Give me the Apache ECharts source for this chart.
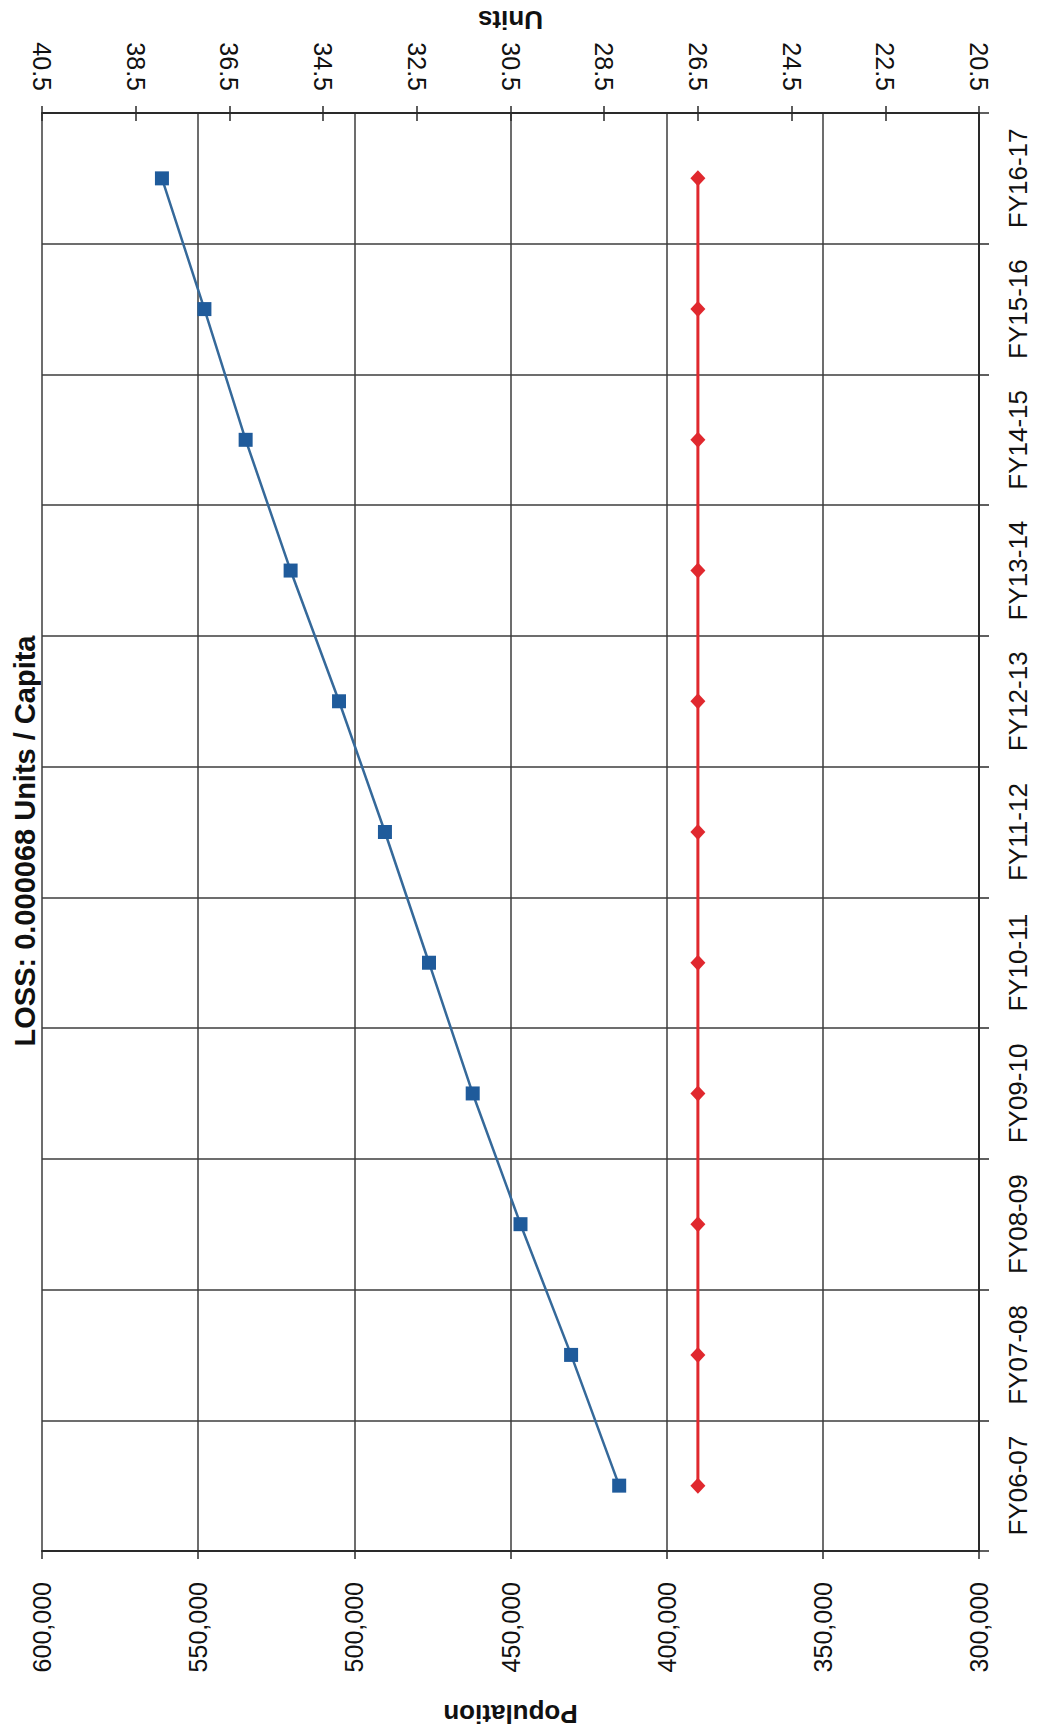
<!DOCTYPE html>
<html>
<head>
<meta charset="utf-8">
<script src="https://cdn.jsdelivr.net/npm/echarts@6/dist/echarts.min.js"></script>
<style>
html,body{margin:0;padding:0;background:#ffffff;}
#chart{width:1037px;height:1732px;}
</style>
</head>
<body>
<div id="chart"></div>
<script>
// ---- data ----
const categories = ['FY06-07','FY07-08','FY08-09','FY09-10','FY10-11','FY11-12','FY12-13','FY13-14','FY14-15','FY15-16','FY16-17'];
const population = [415200, 430600, 446800, 462100, 476100, 490200, 504900, 520400, 534800, 548000, 561600];
const units = [26.5, 26.5, 26.5, 26.5, 26.5, 26.5, 26.5, 26.5, 26.5, 26.5, 26.5];
const populationRange = [300000, 600000];
const populationStep = 50000;
const unitsRange = [20.5, 40.5];
const unitsStep = 2;
const titleText = 'LOSS: 0.000068 Units / Capita';

const FONT = '"Liberation Sans", Arial, Helvetica, sans-serif';
const GRID = '#3c3c3c';
const AXIS = '#2a2a2a';

const chart = echarts.init(document.getElementById('chart'), null, {renderer: 'svg'});
chart.setOption({
  backgroundColor: '#ffffff',
  animation: false,
  grid: {left: 42, right: 58, top: 113, bottom: 176, containLabel: false},
  graphic: [{
    type: 'text',
    x: 25, y: 841,
    rotation: Math.PI / 2,
    style: {
      text: titleText,
      font: 'bold 29px ' + FONT,
      fill: '#111111',
      align: 'center',
      verticalAlign: 'middle'
    }
  }],
  yAxis: [{
    type: 'category',
    position: 'right',
    data: categories,
    boundaryGap: true,
    axisLine: {show: true, lineStyle: {color: AXIS, width: 2}},
    axisTick: {show: true, length: 10, lineStyle: {color: AXIS, width: 1.5}},
    axisLabel: {rotate: 90, interval: 0, margin: 26, fontSize: 26, color: '#111', fontFamily: FONT},
    splitLine: {show: true, lineStyle: {color: GRID, width: 1.5}}
  }],
  xAxis: [{
    type: 'value',
    position: 'bottom',
    inverse: true,
    min: populationRange[0], max: populationRange[1], interval: populationStep,
    axisLine: {show: true, lineStyle: {color: AXIS, width: 2}},
    axisTick: {show: true, length: 8, lineStyle: {color: AXIS, width: 1.5}},
    axisLabel: {rotate: 90, margin: 31, fontSize: 25, color: '#111', fontFamily: FONT,
      formatter: v => v.toLocaleString('en-US')},
    splitLine: {show: true, lineStyle: {color: GRID, width: 1.5}},
    name: 'Population', nameLocation: 'middle', nameGap: 150, nameRotate: 180,
    nameTextStyle: {fontSize: 26, fontWeight: 'bold', color: '#111', fontFamily: FONT}
  }, {
    type: 'value',
    position: 'top',
    inverse: true,
    min: unitsRange[0], max: unitsRange[1], interval: unitsStep,
    axisLine: {show: true, lineStyle: {color: AXIS, width: 2}},
    axisTick: {show: true, length: 7, lineStyle: {color: AXIS, width: 1.5}},
    axisLabel: {rotate: 90, margin: 22, fontSize: 25, color: '#111', fontFamily: FONT,
      formatter: v => v.toFixed(1)},
    splitLine: {show: false},
    name: 'Units', nameLocation: 'middle', nameGap: 80, nameRotate: 180,
    nameTextStyle: {fontSize: 26, fontWeight: 'bold', color: '#111', fontFamily: FONT}
  }, {
    type: 'value',
    position: 'top',
    offset: 0,
    inverse: true,
    min: unitsRange[0], max: unitsRange[1], interval: unitsStep,
    axisLine: {show: false},
    axisTick: {show: true, inside: true, length: 8, lineStyle: {color: AXIS, width: 1.5}},
    axisLabel: {show: false},
    splitLine: {show: false}
  }],
  series: [{
    name: 'Population',
    type: 'line',
    xAxisIndex: 0, yAxisIndex: 0,
    data: population,
    symbol: 'rect', symbolSize: 14,
    lineStyle: {color: '#35699a', width: 2.5},
    itemStyle: {color: '#1f5b9b'},
    z: 3
  }, {
    name: 'Units',
    type: 'line',
    xAxisIndex: 1, yAxisIndex: 0,
    data: units,
    symbol: 'diamond', symbolSize: [15, 16],
    lineStyle: {color: '#e0282e', width: 3},
    itemStyle: {color: '#e0282e'},
    z: 3
  }]
});
</script>
</body>
</html>
